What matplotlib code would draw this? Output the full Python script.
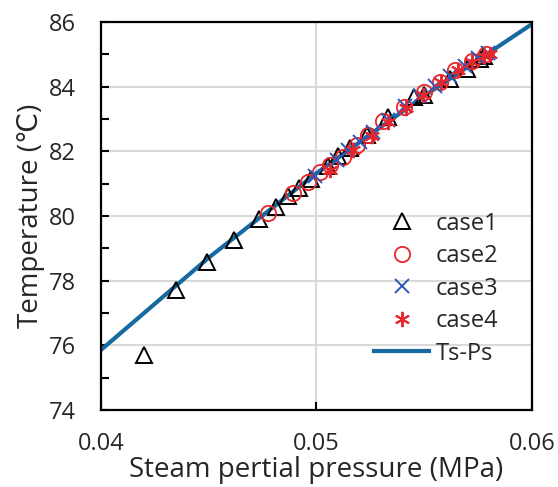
import matplotlib.pyplot as plt
from matplotlib.ticker import MultipleLocator

plt.rcParams['font.family'] = ['Open Sans', 'DejaVu Sans']

# Ts-Ps saturation line
line_p = [0.040, 0.045, 0.050, 0.055, 0.060]
line_t = [75.86, 78.71, 81.32, 83.71, 85.93]

case1_p = [0.0420, 0.04348, 0.04492, 0.04617, 0.04733, 0.04812, 0.04868, 0.04919, 0.04975,
           0.05053, 0.05100, 0.05155, 0.05237, 0.05332, 0.05452, 0.05500, 0.05620, 0.05700,
           0.05760, 0.05780]
case1_t = [75.70, 77.71, 78.58, 79.26, 79.91, 80.28, 80.62, 80.87, 81.15,
           81.55, 81.85, 82.10, 82.50, 83.06, 83.68, 83.75, 84.25, 84.55,
           84.85, 84.95]

case2_p = [0.04775, 0.04891, 0.04961, 0.05016, 0.05063, 0.05123, 0.05188, 0.05239,
           0.05309, 0.05406, 0.05499, 0.05573, 0.05643, 0.05722, 0.05787]
case2_t = [80.09, 80.71, 81.05, 81.36, 81.58, 81.82, 82.20, 82.50,
           82.94, 83.37, 83.83, 84.14, 84.52, 84.79, 85.01]

case3_p = [0.04993, 0.05095, 0.05146, 0.05202, 0.05262, 0.05332, 0.05411, 0.05480,
           0.05550, 0.05619, 0.05689, 0.05749, 0.05796]
case3_t = [81.24, 81.73, 82.04, 82.29, 82.60, 82.97, 83.40, 83.71,
           84.02, 84.33, 84.64, 84.89, 85.04]

case4_p = [0.05063, 0.05169, 0.05258, 0.05332, 0.05415, 0.05494, 0.05578, 0.05657,
           0.05722, 0.05777, 0.05805]
case4_t = [81.42, 82.04, 82.47, 82.91, 83.34, 83.74, 84.14, 84.52,
           84.76, 84.95, 85.01]

txt = '#262626'

fig = plt.figure(figsize=(5.58, 4.87), dpi=100)
ax = fig.add_axes([0.181, 0.158, 0.772, 0.797])

ax.plot(case1_p, case1_t, ls='none', marker='^', ms=12, mfc='none', mec='black', mew=1.4, label='case1', zorder=3)
ax.plot(case2_p, case2_t, ls='none', marker='o', ms=11, mfc='none', mec='#e8262b', mew=1.3, label='case2', zorder=3)
ax.plot(case3_p, case3_t, ls='none', marker='x', ms=10, mec='#2e58b5', mew=1.4, label='case3', zorder=3)
ax.plot(case4_p, case4_t, ls='none', marker=(6, 2, 0), ms=11, mec='#e8262b', mew=1.4, label='case4', zorder=3)
ax.plot(line_p, line_t, color='#176aa0', lw=3, label='Ts-Ps', zorder=2)

ax.set_xlim(0.04, 0.06)
ax.set_ylim(74, 86)
ax.set_xticks([0.04, 0.05, 0.06])
ax.set_xticklabels(['0.04', '0.05', '0.06'])
ax.yaxis.set_major_locator(MultipleLocator(2))
ax.yaxis.set_minor_locator(MultipleLocator(1))
ax.grid(True, color='#d9d9d9', lw=1.5, zorder=0)
ax.set_axisbelow(True)

for s in ax.spines.values():
    s.set_linewidth(1.6)
ax.tick_params(axis='both', direction='in', width=1.5, length=6, labelsize=17, labelcolor=txt)
ax.tick_params(axis='y', which='minor', direction='in', width=1.5, length=6)
ax.tick_params(axis='y', right=False, pad=18)
ax.tick_params(axis='x', pad=16)

ax.set_xlabel('Steam pertial pressure (MPa)', fontsize=20, labelpad=0, color=txt)
ax.set_ylabel('Temperature (℃)', fontsize=20, labelpad=3, color=txt)

leg = ax.legend(loc='lower right', bbox_to_anchor=(0.945, 0.09), frameon=False, fontsize=17,
                handlelength=2.3, handletextpad=0.3, labelspacing=0.36, borderaxespad=0)
for t in leg.get_texts():
    t.set_color(txt)

fig.savefig('out.png', dpi=100)
